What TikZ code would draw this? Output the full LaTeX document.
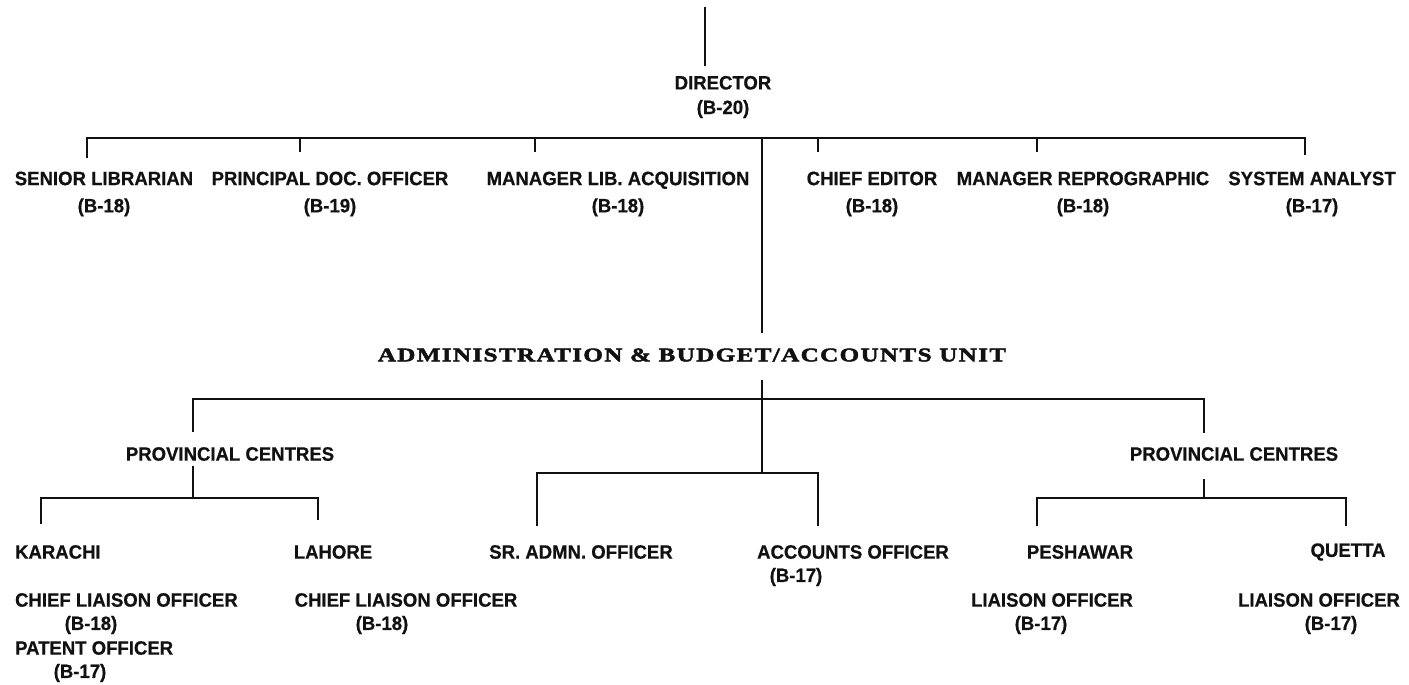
\documentclass[tikz,border=0pt]{standalone}
\usepackage{fontspec}
\setmainfont{Liberation Sans}
\newfontfamily\chartfont[FakeStretch=0.96,FakeBold=0.6]{Liberation Sans}
\newfontfamily\unitfont[FakeStretch=1.3,LetterSpace=7,FakeBold=2.5]{Liberation Serif}
\usepackage{tikz}
\usetikzlibrary{calc}
\definecolor{ink}{HTML}{111111}

\begin{document}
\begin{tikzpicture}[x=0.02cm, y=-0.02cm,
  post/.style={font=\chartfont\bfseries\fontsize{11}{14}\selectfont, text=ink, inner sep=1pt, align=center},
  unit/.style={font=\unitfont\bfseries\fontsize{11}{13}\selectfont, text=ink, inner sep=1pt},
  link/.style={draw=ink, line width=1.5pt}]
\useasboundingbox (0,0) rectangle (1409,685);

% director at the top
\coordinate (top) at (705,7);
\node[post] (dir) at (723,97) {DIRECTOR\\(B-20)};
\draw[link] (top) -- ($(top |- dir.north)+(0,-8)$);

% first row of officers
\node[post] (sl) at (104,194) {SENIOR LIBRARIAN\\[1.5pt](B-18)};
\node[post] (pdo) at (330,194) {PRINCIPAL DOC. OFFICER\\[1.5pt](B-19)};
\node[post] (mla) at (618,194) {MANAGER LIB. ACQUISITION\\[1.5pt](B-18)};
\node[post] (ce) at (872,194) {CHIEF EDITOR\\[1.5pt](B-18)};
\node[post] (mr) at (1083,194) {MANAGER REPROGRAPHIC\\[1.5pt](B-18)};
\node[post] (sa) at (1312,194) {SYSTEM ANALYST\\[1.5pt](B-17)};

\coordinate (bar1) at (0,138);
\coordinate (t1) at (87,158);
\coordinate (t2) at (300,152);
\coordinate (t3) at (535,152);
\coordinate (t4) at (818,152);
\coordinate (t5) at (1037,152);
\coordinate (t6) at (1305,155);
\draw[link] (t1) |- (t6 |- bar1) -- (t6);
\foreach \t in {t2,t3,t4,t5}
  \draw[link] (\t) -- (\t |- bar1);

% spine through the unit title
\node[unit] (unit) at (692,355) {ADMINISTRATION \& BUDGET/ACCOUNTS UNIT};
\coordinate (sp1) at (762,138);
\coordinate (sp2) at (762,333);
\coordinate (sp3) at (762,380);
\coordinate (sp4) at (762,473);
\draw[link] (sp1) -- (sp2);
\draw[link] (sp3) -- (sp4);

% provincial centres
\coordinate (bar2) at (0,399);
\coordinate (p1) at (193,432);
\coordinate (p2) at (1204,433);
\draw[link] (p1) |- (p2 |- bar2) -- (p2);
\node[post] (pcl) at (230,454) {PROVINCIAL CENTRES};
\node[post] (pcr) at (1234,454) {PROVINCIAL CENTRES};

\coordinate (bar3) at (0,498);
\coordinate (q1) at (193,466);
\coordinate (q2) at (1204,479);
\coordinate (k1) at (41,524);
\coordinate (k2) at (318,520);
\coordinate (k3) at (1037,526);
\coordinate (k4) at (1346,526);
\draw[link] (q1) -- (q1 |- bar3);
\draw[link] (k1) |- (k2 |- bar3) -- (k2);
\draw[link] (q2) -- (q2 |- bar3);
\draw[link] (k3) |- (k4 |- bar3) -- (k4);

% admin officers
\coordinate (bar4) at (0,473);
\coordinate (m1) at (537,526);
\coordinate (m2) at (818,526);
\draw[link] (m1) |- (m2 |- bar4) -- (m2);

% bottom row
\node[post, anchor=west] (kar) at (13,552) {KARACHI};
\node[post, anchor=west] (kcl) at (13,600) {CHIEF LIAISON OFFICER};
\node[post] (kg1) at (91,625) {(B-18)};
\node[post, anchor=west] (kpo) at (13,648) {PATENT OFFICER};
\node[post] (kg2) at (80,673) {(B-17)};

\node[post] (lah) at (333,552) {LAHORE};
\node[post] (lcl) at (406,600) {CHIEF LIAISON OFFICER};
\node[post] (lg) at (382,625) {(B-18)};

\node[post] (sao) at (581,552) {SR. ADMN. OFFICER};
\node[post] (ao) at (853,552) {ACCOUNTS OFFICER};
\node[post] (ag) at (796,577) {(B-17)};

\node[post] (pes) at (1080,552) {PESHAWAR};
\node[post] (plo) at (1052,600) {LIAISON OFFICER};
\node[post] (pg) at (1041,625) {(B-17)};

\node[post] (que) at (1348,552) {QUETTA};
\node[post] (qlo) at (1319,600) {LIAISON OFFICER};
\node[post] (qg) at (1331,625) {(B-17)};
\end{tikzpicture}
\end{document}
